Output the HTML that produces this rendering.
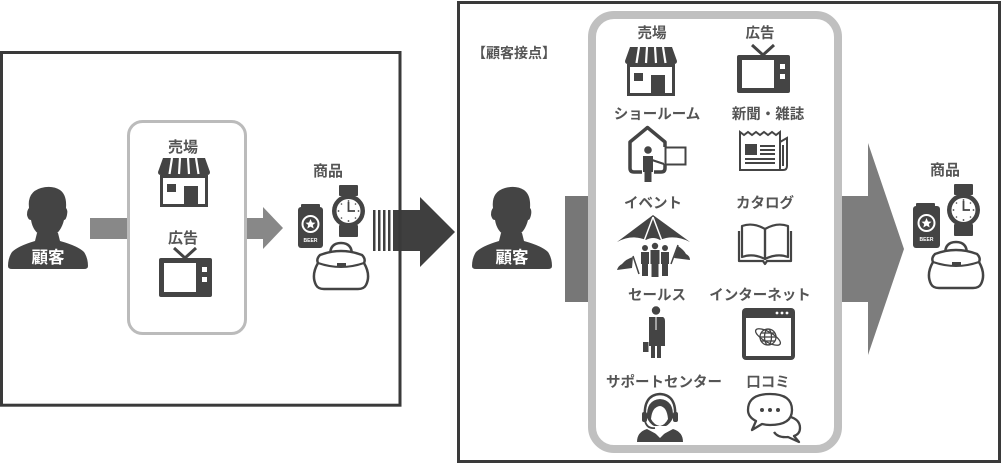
<!DOCTYPE html>
<html><head><meta charset="utf-8"><style>
html,body{margin:0;padding:0;background:#fff;}
svg{display:block;}
text{font-family:"Liberation Sans","Noto Sans CJK JP",sans-serif;font-weight:bold;}
</style></head><body>
<svg width="1003" height="466" viewBox="0 0 1003 466" xmlns="http://www.w3.org/2000/svg">
<rect width="1003" height="466" fill="#fff"/>

<!-- ===== LEFT PANEL ===== -->
<rect x="90" y="218" width="40" height="21" fill="#888"/>
<polygon points="247,218 263,218 263,207 283,228 263,249 263,239 247,239" fill="#888"/>

<!-- stripes + dark arrow -->
<g fill="#3f3f3f">
<rect x="373" y="210" width="2.5" height="41"/>
<rect x="378" y="210" width="2.5" height="41"/>
<rect x="383" y="210" width="2.5" height="41"/>
<rect x="388" y="210" width="2.5" height="41"/>
<polygon points="393,210 420,210 420,197 455,232 420,267 420,251 393,251"/>
</g>

<rect x="1.5" y="52.5" width="398.5" height="352.7" fill="none" stroke="#3a3a3a" stroke-width="3"/>
<rect x="128.5" y="121.5" width="117" height="212" rx="14" fill="#fff" stroke="#bbb" stroke-width="3"/>

<!-- left person -->
<g transform="translate(8,186)" fill="#444">
<path d="M21,22 Q19,6 33,2 Q44,-1 52,4 Q59,9 58,22 Q60,24 59,29 Q58,34 56,34 Q53,46 45,50 L34,50 Q25,46 23,34 Q20,34 19,29 Q19,24 21,22 Z"/>
<path d="M29,47 L50,47 L52,55 Q70,60 76,66 Q80,72 80,80 Q80,83 76,83 L4,83 Q0,83 0,80 Q0,72 4,66 Q10,60 27,55 Z"/>
<text x="40" y="77" font-size="16.5" fill="#fff" text-anchor="middle">顧客</text>
</g>

<text x="183" y="152" font-size="15" fill="#555" text-anchor="middle">売場</text>
<!-- left store -->
<g transform="translate(158,158)" fill="#444">
<path d="M5,0 L47,0 L52,14 Q52,17 49,17 L3,17 Q0,17 0,14 Z"/>
<g stroke="#fff" stroke-width="2.2"><line x1="14" y1="0" x2="11.5" y2="16"/><line x1="22" y1="0" x2="21" y2="16"/><line x1="30" y1="0" x2="31" y2="16"/><line x1="38" y1="0" x2="40.5" y2="16"/></g>
<rect x="3.5" y="18.5" width="45" height="29" fill="none" stroke="#444" stroke-width="3"/>
<rect x="9" y="26" width="9" height="8"/>
<rect x="26" y="28" width="14" height="20"/>
</g>
<text x="183" y="243" font-size="15" fill="#555" text-anchor="middle">広告</text>
<!-- left TV -->
<g transform="translate(159,248)" fill="#444">
<polyline points="15,0 26,10 37,0" fill="none" stroke="#444" stroke-width="3"/>
<rect x="0" y="10" width="53" height="39" rx="2"/>
<rect x="5" y="15" width="32" height="29" fill="#fff"/>
<rect x="43" y="19" width="5" height="5" fill="#fff"/>
<rect x="43" y="29" width="5" height="5" fill="#fff"/>
</g>

<text x="328" y="176" font-size="15" fill="#555" text-anchor="middle">商品</text>
<!-- left products -->
<g transform="translate(298,183)">
<rect x="3" y="21" width="19" height="5" rx="1" fill="#444"/>
<rect x="0" y="24" width="25" height="41" rx="3" fill="#444"/>
<circle cx="12.5" cy="41" r="8" fill="none" stroke="#fff" stroke-width="2"/>
<polygon points="12.5,36 14,39.5 17.5,39.8 14.8,42 15.7,45.5 12.5,43.6 9.3,45.5 10.2,42 7.5,39.8 11,39.5" fill="#fff"/>
<text x="12.5" y="59" font-size="5" fill="#fff" text-anchor="middle" font-family="Liberation Sans">BEER</text>
<rect x="41" y="2" width="19" height="11" rx="1" fill="#444"/>
<rect x="41" y="42" width="19" height="12" rx="1" fill="#444"/>
<circle cx="50.5" cy="28" r="16.5" fill="#444"/>
<circle cx="50.5" cy="28" r="12" fill="#fff"/>
<polyline points="50.5,19 50.5,28 57,28" fill="none" stroke="#444" stroke-width="1.8"/>
<g fill="#444"><circle cx="50.5" cy="18" r="0.9"/><circle cx="50.5" cy="38" r="0.9"/><circle cx="40.5" cy="28" r="0.9"/><circle cx="60.5" cy="28" r="0.9"/><circle cx="43.5" cy="21" r="0.8"/><circle cx="57.5" cy="21" r="0.8"/><circle cx="43.5" cy="35" r="0.8"/><circle cx="57.5" cy="35" r="0.8"/></g>
<path d="M32,72 Q32,60 43,60 Q54,60 54,72" fill="none" stroke="#444" stroke-width="2.5"/>
<path d="M22,72 Q43,64 64,72 Q68,76 66,80 Q73,92 68,102 Q66,106 60,106 L26,106 Q20,106 18,102 Q13,92 20,80 Q18,76 22,72 Z" fill="#fff" stroke="#444" stroke-width="2.5"/>
<path d="M20,80 Q43,88 66,80" fill="none" stroke="#444" stroke-width="2"/>
<rect x="39" y="80" width="9" height="3" fill="#444"/>
</g>

<!-- ===== RIGHT PANEL ===== -->
<rect x="458.5" y="2.5" width="541" height="459" fill="none" stroke="#3a3a3a" stroke-width="3"/>
<rect x="565" y="196" width="30" height="106" fill="#777"/>
<polygon points="836,196 868,196 868,143 904,249 868,355 868,302 836,302" fill="#7d7d7d"/>
<rect x="592" y="15" width="246" height="434" rx="22" fill="#fff" stroke="#c0c0c0" stroke-width="8"/>

<text x="472" y="58" font-size="14" fill="#555">【顧客接点】</text>

<!-- right person -->
<g transform="translate(472,186)" fill="#444">
<path d="M21,22 Q19,6 33,2 Q44,-1 52,4 Q59,9 58,22 Q60,24 59,29 Q58,34 56,34 Q53,46 45,50 L34,50 Q25,46 23,34 Q20,34 19,29 Q19,24 21,22 Z"/>
<path d="M29,47 L50,47 L52,55 Q70,60 76,66 Q80,72 80,80 Q80,83 76,83 L4,83 Q0,83 0,80 Q0,72 4,66 Q10,60 27,55 Z"/>
<text x="40" y="77" font-size="16.5" fill="#fff" text-anchor="middle">顧客</text>
</g>

<!-- grid labels -->
<g font-size="14.5" fill="#555" text-anchor="middle">
<text x="652" y="38">売場</text>
<text x="760" y="38">広告</text>
<text x="657" y="119">ショールーム</text>
<text x="768" y="119">新聞・雑誌</text>
<text x="653" y="208">イベント</text>
<text x="765" y="208">カタログ</text>
<text x="657" y="300">セールス</text>
<text x="760" y="300">インターネット</text>
<text x="664" y="387">サポートセンター</text>
<text x="768" y="387">口コミ</text>
</g>

<!-- right store -->
<g transform="translate(625,47)" fill="#444">
<path d="M5,0 L47,0 L52,14 Q52,17 49,17 L3,17 Q0,17 0,14 Z"/>
<g stroke="#fff" stroke-width="2.2"><line x1="14" y1="0" x2="11.5" y2="16"/><line x1="22" y1="0" x2="21" y2="16"/><line x1="30" y1="0" x2="31" y2="16"/><line x1="38" y1="0" x2="40.5" y2="16"/></g>
<rect x="3.5" y="18.5" width="45" height="29" fill="none" stroke="#444" stroke-width="3"/>
<rect x="9" y="26" width="9" height="8"/>
<rect x="26" y="28" width="14" height="20"/>
</g>
<!-- right TV -->
<g transform="translate(737,45)" fill="#444">
<polyline points="15,0 26,10 37,0" fill="none" stroke="#444" stroke-width="3"/>
<rect x="0" y="10" width="53" height="38" rx="2"/>
<rect x="5" y="15" width="32" height="28" fill="#fff"/>
<rect x="43" y="19" width="5" height="5" fill="#fff"/>
<rect x="43" y="29" width="5" height="5" fill="#fff"/>
</g>

<!-- showroom -->
<g>
<path d="M665,147 L665,142 L647.5,127.5 L630,142 L630,168 Q630,172 634,172 L642,172 M654,172 L661,172 Q665,172 665,168 L665,164" fill="none" stroke="#444" stroke-width="3.5" stroke-linejoin="round"/>
<rect x="665.5" y="147.5" width="20" height="17" fill="#fff" stroke="#444" stroke-width="2"/>
<circle cx="648" cy="150" r="3.8" fill="#444"/>
<path d="M643,156 L653,156 L653,172 L651.5,172 L651.5,182 L644.5,182 L644.5,172 L643,172 Z" fill="#444"/>
<line x1="652" y1="160" x2="664" y2="164" stroke="#444" stroke-width="2.2"/>
</g>

<!-- newspaper -->
<g fill="none" stroke="#444" stroke-width="2">
<path d="M740,170 L740,132 L744,135 L748,132 L752,135 L756,132 L760,135 L764,132 L768,135 L772,132 L776,135 L780,132 L780,170 Z"/>
<path d="M780,142 L787,138 L787,166 Q787,170 783,170 L740,170"/>
<line x1="783" y1="145" x2="783" y2="166"/>
<line x1="760" y1="146" x2="775" y2="146"/>
<line x1="760" y1="150" x2="775" y2="150"/>
<line x1="760" y1="154" x2="775" y2="154"/>
<line x1="745" y1="159" x2="775" y2="159"/>
<line x1="745" y1="163" x2="775" y2="163"/>
</g>
<rect x="745" y="144" width="12" height="11" fill="#444"/>

<!-- event -->
<g fill="#444">
<path d="M653,215 L617,242 Q632,234 646,240 Q653,236 660,240 Q674,234 690,242 Z"/>
<g stroke="#fff" stroke-width="1.5"><line x1="653" y1="217" x2="644" y2="241"/><line x1="653" y1="217" x2="662" y2="241"/></g>
<circle cx="645" cy="248" r="3"/><circle cx="655" cy="246" r="3.2"/><circle cx="665" cy="248" r="3"/>
<path d="M641,252 L649,252 L649,264 L648,264 L648,276 L642,276 L642,264 L641,264 Z"/>
<path d="M650.5,250 L659.5,250 L659.5,264 L658.5,264 L658.5,277 L651.5,277 L651.5,264 L650.5,264 Z"/>
<path d="M661,252 L669,252 L669,264 L668,264 L668,276 L662,276 L662,264 L661,264 Z"/>
<line x1="633" y1="256" x2="639" y2="274" stroke="#444" stroke-width="1.5"/>
<path d="M633,257 Q626,259 622,264 Q618,266 617,270 L632,268 Z"/>
<line x1="678" y1="245" x2="671" y2="264" stroke="#444" stroke-width="1.5"/>
<path d="M678,246 Q684,250 686,254 Q690,256 690,260 L674,258 Z"/>
</g>

<!-- catalog -->
<g fill="none" stroke="#444" stroke-width="2.2" stroke-linejoin="round">
<path d="M742,226 Q753,222 765,229 L765,259 Q753,253 742,257 Z"/>
<path d="M788,226 Q777,222 765,229 L765,259 Q777,253 788,257 Z"/>
<path d="M739,231 L739,261 L763,261 L765,264 L767,261 L791,261 L791,231"/>
</g>

<!-- sales -->
<g fill="#444">
<circle cx="656" cy="310.5" r="4.2"/>
<path d="M649,317 L663,317 Q665,318 665,321 L665,346 L661,346 L661,358 L657,358 L657,346 L655,346 L655,358 L651,358 L651,346 L649,346 Z"/>
<rect x="643" y="342" width="5.5" height="10"/>
</g>
<line x1="656" y1="317" x2="656" y2="330" stroke="#fff" stroke-width="1"/>

<!-- internet -->
<g>
<rect x="742" y="308" width="53" height="52" rx="4" fill="#444"/>
<rect x="746" y="318" width="45" height="38" fill="#fff"/>
<circle cx="777" cy="313" r="1.4" fill="#fff"/><circle cx="782" cy="313" r="1.4" fill="#fff"/><circle cx="787" cy="313" r="1.4" fill="#fff"/>
<g fill="none" stroke="#444" stroke-width="1.3">
<circle cx="768" cy="337" r="8"/>
<ellipse cx="768" cy="337" rx="3.5" ry="8"/>
<line x1="760" y1="337" x2="776" y2="337"/>
<line x1="761" y1="333" x2="775" y2="333"/>
<line x1="761" y1="341" x2="775" y2="341"/>
<ellipse cx="768" cy="337" rx="14" ry="5" transform="rotate(30 768 337)"/>
</g>
</g>

<!-- support -->
<g>
<path d="M647,418 Q646,400 660,399 Q674,400 673,418 Q670,424 666,426 L654,426 Q650,424 647,418 Z" fill="#444"/>
<path d="M651,419 Q652,407 660,406 Q667,407 668,419 Q665,425 660,426 Q654,425 651,419 Z" fill="#fff"/>
<path d="M645,418 Q643,395 660,394 Q677,395 675,418" fill="none" stroke="#444" stroke-width="2.5"/>
<rect x="642" y="412" width="5" height="10" rx="2" fill="#444"/>
<rect x="673" y="412" width="5" height="10" rx="2" fill="#444"/>
<path d="M645,421 Q647,429 655,428" fill="none" stroke="#444" stroke-width="1.8"/>
<path d="M637,442 Q637,432 647,429 L660,436 L673,429 Q683,432 683,442 Z" fill="#444"/>
<path d="M654,431 L660,437 L666,431" fill="none" stroke="#fff" stroke-width="1.5"/>
</g>

<!-- chat -->
<g fill="#fff" stroke="#444" stroke-width="2.3" stroke-linejoin="round">
<path d="M786,416 Q800,418 800,428 Q800,434 794,436 L799,442 L788,437 Q778,438 774,432"/>
<path d="M770,394 Q792,394 792,410 Q792,425 770,425 Q766,425 762,424 L752,430 L756,421 Q748,417 748,410 Q748,394 770,394 Z"/>
</g>
<g fill="#444"><circle cx="762" cy="410" r="2"/><circle cx="770" cy="410" r="2"/><circle cx="778" cy="410" r="2"/></g>

<text x="945" y="175" font-size="15" fill="#555" text-anchor="middle">商品</text>
<!-- right products -->
<g transform="translate(913,182)">
<rect x="3" y="21" width="19" height="5" rx="1" fill="#444"/>
<rect x="0" y="24" width="27" height="42" rx="3" fill="#444"/>
<circle cx="13.5" cy="41" r="8" fill="none" stroke="#fff" stroke-width="2"/>
<polygon points="13.5,36 15,39.5 18.5,39.8 15.8,42 16.7,45.5 13.5,43.6 10.3,45.5 11.2,42 8.5,39.8 12,39.5" fill="#fff"/>
<text x="13.5" y="59" font-size="5" fill="#fff" text-anchor="middle" font-family="Liberation Sans">BEER</text>
<rect x="41" y="2" width="19" height="11" rx="1" fill="#444"/>
<rect x="41" y="42" width="19" height="12" rx="1" fill="#444"/>
<circle cx="50.5" cy="28" r="16.5" fill="#444"/>
<circle cx="50.5" cy="28" r="12" fill="#fff"/>
<polyline points="50.5,19 50.5,28 57,28" fill="none" stroke="#444" stroke-width="1.8"/>
<g fill="#444"><circle cx="50.5" cy="18" r="0.9"/><circle cx="50.5" cy="38" r="0.9"/><circle cx="40.5" cy="28" r="0.9"/><circle cx="60.5" cy="28" r="0.9"/><circle cx="43.5" cy="21" r="0.8"/><circle cx="57.5" cy="21" r="0.8"/><circle cx="43.5" cy="35" r="0.8"/><circle cx="57.5" cy="35" r="0.8"/></g>
<path d="M32,72 Q32,60 43,60 Q54,60 54,72" fill="none" stroke="#444" stroke-width="2.5"/>
<path d="M22,72 Q43,64 64,72 Q68,76 66,80 Q73,92 68,102 Q66,106 60,106 L26,106 Q20,106 18,102 Q13,92 20,80 Q18,76 22,72 Z" fill="#fff" stroke="#444" stroke-width="2.5"/>
<path d="M20,80 Q43,88 66,80" fill="none" stroke="#444" stroke-width="2"/>
<rect x="39" y="80" width="9" height="3" fill="#444"/>
</g>
</svg>
</body></html>
